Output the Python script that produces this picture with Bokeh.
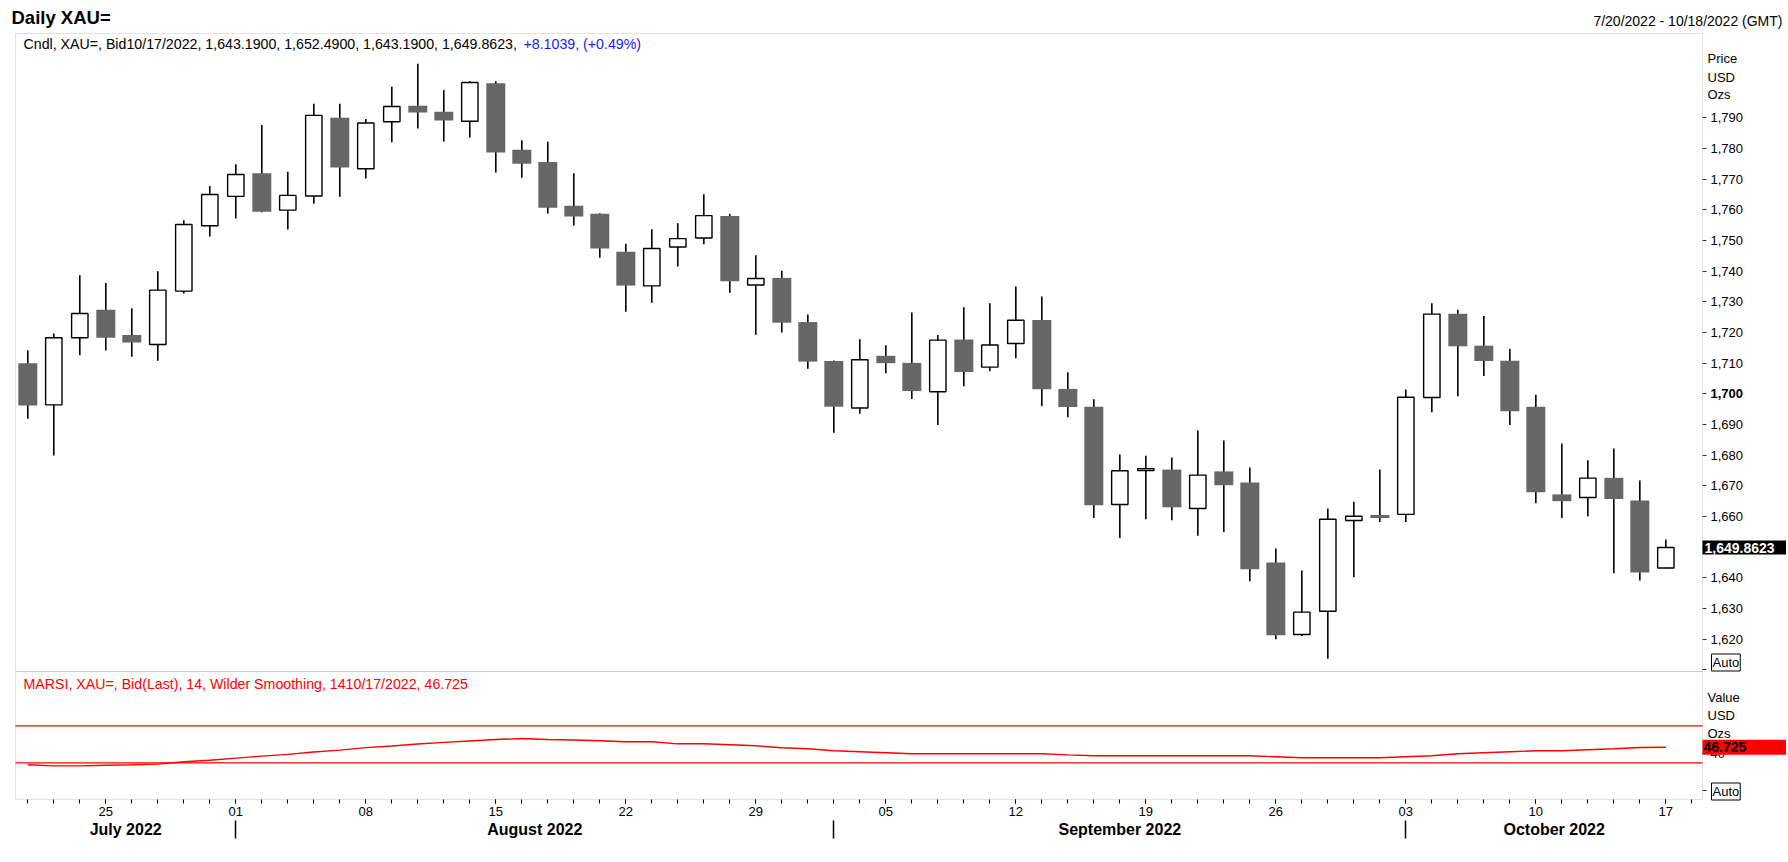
import numpy as np
import pandas as pd
from bokeh.plotting import figure
from bokeh.models import (ColumnDataSource, Range1d, FixedTicker, LinearAxis, Label,
                          BoxAnnotation, NumeralTickFormatter)
from bokeh.embed import file_html
from bokeh.resources import INLINE

# ---------------- data ----------------
dates = pd.bdate_range("2022-07-20", "2022-10-17")   # 64 trading days

opens = [1710.0, 1696.4, 1718.3, 1727.4, 1719.2, 1716.1, 1733.5, 1754.8, 1764.4, 1771.9,
         1759.9, 1764.5, 1790.0, 1773.4, 1788.7, 1793.9, 1792.0, 1788.9, 1801.3, 1779.6,
         1775.6, 1761.3, 1758.7, 1746.3, 1735.2, 1747.9, 1750.8, 1758.0, 1735.5, 1737.8,
         1723.4, 1710.7, 1695.4, 1712.4, 1710.1, 1700.7, 1717.7, 1708.7, 1716.4, 1724.1,
         1701.6, 1695.8, 1663.9, 1675.0, 1675.3, 1662.6, 1674.7, 1671.1, 1645.0, 1621.5,
         1629.1, 1658.7, 1660.5, 1660.7, 1698.8, 1726.1, 1715.7, 1710.8, 1695.8, 1667.2,
         1666.2, 1672.6, 1665.2, 1643.19]
highs = [1714.2, 1719.7, 1738.7, 1736.1, 1727.9, 1740.0, 1756.6, 1767.8, 1774.9, 1787.7,
         1772.4, 1794.6, 1794.6, 1789.6, 1800.1, 1807.6, 1799.1, 1801.9, 1801.9, 1782.7,
         1782.2, 1771.9, 1758.9, 1748.9, 1753.7, 1755.6, 1765.1, 1758.6, 1745.2, 1740.1,
         1725.9, 1710.9, 1717.8, 1715.8, 1726.5, 1719.2, 1728.2, 1729.5, 1735.0, 1731.7,
         1707.0, 1698.2, 1680.2, 1679.8, 1679.2, 1688.0, 1684.8, 1676.0, 1649.6, 1642.4,
         1662.6, 1664.8, 1675.3, 1701.4, 1729.5, 1727.4, 1725.4, 1714.7, 1699.7, 1683.8,
         1678.3, 1682.2, 1671.7, 1652.49]
lows = [1691.9, 1679.9, 1712.6, 1714.1, 1712.1, 1710.8, 1732.7, 1751.3, 1757.2, 1759.2,
        1753.6, 1762.0, 1764.3, 1770.2, 1782.0, 1786.5, 1782.3, 1783.6, 1772.2, 1770.5,
        1758.8, 1754.9, 1744.4, 1726.8, 1729.7, 1741.5, 1748.8, 1733.0, 1719.3, 1720.0,
        1708.2, 1687.3, 1693.5, 1706.7, 1698.3, 1689.8, 1702.5, 1707.4, 1711.6, 1696.0,
        1692.4, 1659.5, 1653.0, 1659.1, 1658.8, 1653.7, 1654.9, 1638.9, 1620.0, 1621.0,
        1613.6, 1640.2, 1658.2, 1658.2, 1694.0, 1699.2, 1705.8, 1689.8, 1664.3, 1659.5,
        1660.1, 1641.5, 1639.1, 1643.19]
closes = [1696.2, 1718.3, 1726.2, 1718.3, 1716.7, 1733.8, 1755.2, 1765.0, 1771.5, 1759.4,
          1764.7, 1790.8, 1773.8, 1788.3, 1793.7, 1791.7, 1789.1, 1801.5, 1778.7, 1775.0,
          1760.7, 1757.8, 1747.4, 1735.3, 1747.4, 1750.6, 1758.1, 1736.7, 1737.6, 1723.2,
          1710.5, 1695.8, 1711.1, 1710.0, 1700.9, 1717.5, 1707.1, 1715.9, 1724.0, 1701.5,
          1695.7, 1663.7, 1674.9, 1675.6, 1663.0, 1673.5, 1670.2, 1642.8, 1621.3, 1628.8,
          1659.1, 1660.1, 1659.5, 1698.9, 1726.0, 1715.5, 1710.7, 1694.3, 1667.9, 1665.0,
          1672.5, 1665.7, 1641.76, 1649.8623]

rsi_values = [27.8, 26.7, 26.7, 27.4, 27.8, 28.5, 31.1, 32.8, 35.0, 37.2,
              39.1, 41.6, 43.7, 46.4, 48.1, 50.3, 52.1, 53.6, 55.1, 56.2,
              55.1, 54.7, 53.8, 52.7, 52.7, 50.5, 50.5, 49.5, 48.4, 46.2,
              45.1, 43.0, 41.9, 40.8, 39.7, 39.7, 39.7, 39.7, 39.7, 39.7,
              38.6, 37.6, 37.6, 37.6, 37.6, 37.6, 37.6, 37.6, 36.5, 35.4,
              35.4, 35.4, 35.4, 36.5, 37.6, 39.7, 40.8, 41.9, 43.0, 43.0,
              44.1, 45.1, 46.6, 46.725]
rsi_levels = [30, 70]
price_ticks = list(range(1610, 1800, 10))
rsi_ticks = [0, 40]

title_text = "Daily XAU="
range_text = "7/20/2022 - 10/18/2022 (GMT)"
header_black = "Cndl, XAU=, Bid10/17/2022, 1,643.1900, 1,652.4900, 1,643.1900, 1,649.8623, "
header_blue = "+8.1039, (+0.49%)"
rsi_header = "MARSI, XAU=, Bid(Last),  14, Wilder Smoothing, 1410/17/2022, 46.725"
last_price_text = "1,649.8623"
last_rsi_text = "46.725"

# ---------------- layout (page pixels) ----------------
FONT = "Liberation Sans"
HDR = "14.2px"
X0, X1 = -0.473, 64.41          # chart x extent (index units)
P0, P1 = 1609.45, 1817.5        # price panel extent
R0, R1 = -9.7, 128.7            # RSI panel extent
FL, FR = 15, 1702               # chart frame left/right (page px)
PT, PB = 33, 671                # price frame top/bottom
RT, RB = 671, 799               # rsi frame top/bottom
CL, CR, CT, CB = 0, 1786, 0, 860  # canvas in page px
ppx = (FR - FL) / (X1 - X0)
ppp = (PB - PT) / (P1 - P0)
ppr = (RB - RT) / (R1 - R0)

def X(px):
    return X0 + (px - FL) / ppx

def Y(py):          # page y -> price data
    return P1 - (py - PT) / ppp

def R(py):          # page y -> rsi data
    return R1 - (py - RT) / ppr

def YR(v):          # rsi value -> price-data coordinate (for annotations)
    return Y(RT + (R1 - v) * ppr)

idx = np.arange(len(dates))
o = np.array(opens); h = np.array(highs); l = np.array(lows); c = np.array(closes)
up = c >= o
src_all = ColumnDataSource(dict(x=idx, h=h, l=l))
src_up = ColumnDataSource(dict(x=idx[up], top=np.maximum(o, c)[up], bottom=np.minimum(o, c)[up]))
src_dn = ColumnDataSource(dict(x=idx[~up], top=np.maximum(o, c)[~up], bottom=np.minimum(o, c)[~up]))
src_rsi = ColumnDataSource(dict(x=idx, y=rsi_values))
src_lv = ColumnDataSource(dict(x0=[X0] * len(rsi_levels), x1=[X1] * len(rsi_levels),
                               y=rsi_levels))

p = figure(width=CR - CL, height=CB - CT, x_range=Range1d(X(CL), X(CR)),
           y_range=Range1d(Y(CB), Y(CT)), title=None,
           output_backend="svg", toolbar_location=None,
           x_axis_location=None, y_axis_location=None,
           min_border=0, min_border_left=0, min_border_right=0,
           min_border_top=0, min_border_bottom=0)
p.extra_y_ranges = {"rsi": Range1d(R(CB), R(CT))}
p.outline_line_color = None
p.background_fill_color = "white"
p.border_fill_color = "white"
p.grid.visible = False

# panel frames
GRAY = "#a0a0a0"
p.add_layout(BoxAnnotation(left=X0, right=X1, bottom=P0, top=P1, fill_color=None,
                           line_color=GRAY, line_width=1, level="underlay"))
p.add_layout(BoxAnnotation(left=X0, right=X1, bottom=Y(RB), top=Y(RT), fill_color=None,
                           line_color=GRAY, line_width=1, level="underlay"))

# candles
p.segment(x0="x", y0="l", x1="x", y1="h", source=src_all, line_color="black", line_width=1.6)
p.vbar(x="x", width=0.73, top="top", bottom="bottom", source=src_dn,
       fill_color="#666666", line_color=None)
p.vbar(x="x", width=0.63, top="top", bottom="bottom", source=src_up,
       fill_color="white", line_color="black", line_width=1.4)

# RSI
p.segment(x0="x0", x1="x1", y0="y", y1="y", source=src_lv, y_range_name="rsi",
          line_color="#ff0000", line_width=1.3)
p.line("x", "y", source=src_rsi, y_range_name="rsi", line_color="#ff0000", line_width=1.4)

def style_axis(ax, size="13px"):
    ax.axis_line_color = None
    ax.major_tick_in = 0
    ax.major_tick_out = 4
    ax.minor_tick_in = 0
    ax.minor_tick_out = 4
    ax.major_label_text_font = FONT
    ax.major_label_text_font_size = size
    ax.major_label_text_color = "black"

# price axis (right)
ya = LinearAxis(fixed_location=X1, ticker=FixedTicker(ticks=price_ticks),
                formatter=NumeralTickFormatter(format="0,0"))
style_axis(ya)
ya.major_label_overrides = {1610: "", 1700: ""}
ya.major_tick_line_color = "#333333"
ya.minor_tick_line_color = None
ya.major_label_standoff = 4
p.add_layout(ya, "right")

# rsi axis (right)
ra = LinearAxis(fixed_location=X1, y_range_name="rsi", ticker=FixedTicker(ticks=rsi_ticks))
style_axis(ra)
ra.major_label_overrides = {0: ""}
ra.major_tick_line_color = "#333333"
ra.minor_tick_line_color = None
ra.major_label_standoff = 4
p.add_layout(ra, "right")

# date axis (below)
mondays = [int(i) for i in idx if dates[i].weekday() == 0]
xa = LinearAxis(fixed_location=Y(RB),
                ticker=FixedTicker(ticks=mondays, minor_ticks=list(range(len(dates) + 1))))
style_axis(xa)
xa.major_label_overrides = {i: dates[i].strftime("%d") for i in mondays}
xa.major_tick_line_color = "black"
xa.minor_tick_line_color = "black"
xa.major_label_standoff = 3
p.add_layout(xa, "below")

# month separators (below)
month_starts = [int(i) for i in idx[1:] if dates[i].month != dates[i - 1].month]
sa = LinearAxis(fixed_location=Y(820), ticker=FixedTicker(ticks=month_starts))
style_axis(sa)
sa.major_tick_out = 18
sa.major_tick_line_color = "black"
sa.major_tick_line_width = 1.5
sa.minor_tick_line_color = None
sa.major_label_overrides = {i: "" for i in month_starts}
p.add_layout(sa, "below")

# month names (below)
bounds = [X0] + month_starts + [X1]
centers = [round((bounds[k] + bounds[k + 1]) / 2, 3) for k in range(len(bounds) - 1)]
month_names = [dates[0].strftime("%B %Y")] + [dates[i].strftime("%B %Y") for i in month_starts]
ma = LinearAxis(fixed_location=Y(820), ticker=FixedTicker(ticks=centers),
                major_label_overrides={cc: nm for cc, nm in zip(centers, month_names)})
style_axis(ma, size="16px")
ma.major_tick_line_color = None
ma.minor_tick_line_color = None
ma.major_tick_out = 0
ma.minor_tick_out = 0
ma.major_label_standoff = 0
ma.major_label_text_font_style = "bold"
p.add_layout(ma, "below")

def lab(x, y, text, size="13px", color="black", bold=False, align="left", **kw):
    p.add_layout(Label(x=x, y=y, text=text, text_font=FONT, text_font_size=size,
                       text_color=color, text_font_style="bold" if bold else "normal",
                       text_align=align, text_baseline="middle", **kw))

# texts around the price panel
lab(X(11), Y(17), title_text, size="18.5px", bold=True)
lab(X(1782), Y(20), range_text, size="14px", align="right")
lab(X(23), Y(43), header_black, size=HDR)
lab(X(523), Y(43), header_blue, size=HDR, color="#1a1aff")
for t, yy in zip(["Price", "USD", "Ozs"], [58, 77, 94]):
    lab(X(1707), Y(yy), t)
lab(X(1710), 1700, "1,700", bold=True)
lab(X(1711), Y(662), "Auto", border_line_color="black",
    background_fill_color="white", padding=1)
p.add_layout(BoxAnnotation(left=X(1702), right=X(CR), top=closes[-1] + 7 / ppp,
                           bottom=closes[-1] - 7 / ppp, fill_color="black", fill_alpha=1.0,
                           line_color=None))
lab(X(1704), closes[-1], last_price_text, size="14px", color="white", bold=True)

# texts around the RSI panel
lab(X(23), Y(683), rsi_header, size=HDR, color="#ff0000")
for t, yy in zip(["Value", "USD", "Ozs"], [697, 715, 733]):
    lab(X(1707), Y(yy), t)
yc = YR(rsi_values[-1])
p.add_layout(BoxAnnotation(left=X(1702), right=X(CR), top=yc + 7.5 / ppp,
                           bottom=yc - 7.5 / ppp, fill_color="#ff0000",
                           fill_alpha=1.0, line_color=None))
lab(X(1703), yc, last_rsi_text, size="14px", bold=True)
lab(X(1711), Y(791), "Auto", border_line_color="black",
    background_fill_color="white", padding=1)

open("out.html", "w").write(file_html(p, INLINE))
